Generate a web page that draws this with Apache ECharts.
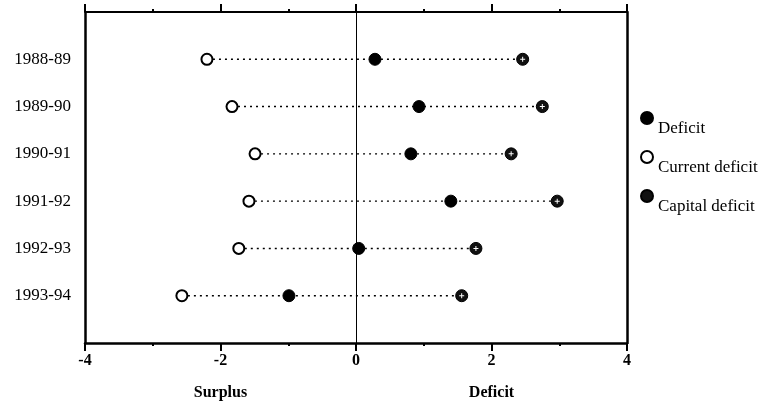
<!DOCTYPE html>
<html>
<head>
<meta charset="utf-8">
<script src="https://cdn.jsdelivr.net/npm/echarts@6/dist/echarts.min.js"></script>
<style>
html,body{margin:0;padding:0;background:#fff;}
#chart{width:763px;height:406px;}
</style>
</head>
<body>
<div id="chart"></div>
<script>
const categories = ['1988-89','1989-90','1990-91','1991-92','1992-93','1993-94'];
const deficit = [0.28, 0.93, 0.81, 1.40, 0.04, -0.99];
const currentDeficit = [-2.20, -1.83, -1.49, -1.58, -1.73, -2.57];
const capitalDeficit = [2.46, 2.75, 2.29, 2.97, 1.77, 1.56];
const xTickLabels = ['-4', '-2', '0', '2', '4'];
const xSideNames = {'-2': 'Surplus', '2': 'Deficit'};
const seriesNames = ['Deficit', 'Current deficit', 'Capital deficit'];

const FONT = "'Liberation Serif','Times New Roman',serif";
const chart = echarts.init(document.getElementById('chart'), null, {renderer: 'canvas'});

const n = categories.length;
const rowOf = i => n - i;
const catLabel = {};
categories.forEach((c, i) => { catLabel[rowOf(i)] = c; });

const pts = arr => arr.map((v, i) => [v, rowOf(i)]);

const dotted = categories.map((c, i) => ({
  type: 'line',
  silent: true,
  symbol: 'none',
  z: 1,
  lineStyle: {color: '#000', width: 1.4, type: [2, 4]},
  data: [[Math.min(currentDeficit[i], capitalDeficit[i], deficit[i]), rowOf(i)],
         [Math.max(currentDeficit[i], capitalDeficit[i], deficit[i]), rowOf(i)]]
}));

const crossPath = 'path://M4,0h2v4h4v2h-4v4h-2v-4h-4v-2h4z';

const option = {
  animation: false,
  backgroundColor: '#fff',
  grid: {left: 85, right: 136, top: 12, bottom: 63},
  legend: {
    orient: 'vertical',
    left: 635, top: 106,
    itemGap: 13,
    itemWidth: 12, itemHeight: 12,
    data: seriesNames,
    formatter: name => '{t|' + name + '}',
    textStyle: {
      fontFamily: FONT, fontSize: 17, color: '#000',
      rich: {t: {fontFamily: FONT, fontSize: 17, color: '#000', padding: [21, 0, 0, 0]}}
    }
  },
  xAxis: [
    {
      type: 'value', position: 'bottom', min: -4, max: 4, interval: 2,
      axisLine: {show: true, lineStyle: {color: '#000', width: 2.5}},
      axisTick: {show: true, length: 8, lineStyle: {color: '#000', width: 2}},
      minorTick: {show: true, splitNumber: 2, length: 3, lineStyle: {color: '#000', width: 2}},
      splitLine: {show: false},
      axisLabel: {
        margin: 10, fontFamily: FONT, fontSize: 16, fontWeight: 'bold', color: '#000',
        formatter: v => xTickLabels.includes(String(v)) ? String(v) : ''
      }
    },
    {
      type: 'value', position: 'top', min: -4, max: 4, interval: 2,
      axisLine: {show: true, onZero: false, lineStyle: {color: '#000', width: 2}},
      axisTick: {show: true, length: 8, lineStyle: {color: '#000', width: 2}},
      minorTick: {show: true, splitNumber: 2, length: 3, lineStyle: {color: '#000', width: 2}},
      splitLine: {show: false},
      axisLabel: {show: false}
    },
    {
      type: 'value', position: 'bottom', offset: 34, min: -4, max: 4, interval: 2,
      axisLine: {show: false}, axisTick: {show: false}, splitLine: {show: false},
      axisLabel: {
        margin: 8, fontFamily: FONT, fontSize: 16, fontWeight: 'bold', color: '#000',
        formatter: v => xSideNames[String(v)] || ''
      }
    }
  ],
  yAxis: [
    {
      type: 'value', position: 'left', min: 0, max: n + 1, interval: 1,
      axisLine: {show: true, onZero: false, lineStyle: {color: '#000', width: 2.5}},
      axisTick: {show: false}, splitLine: {show: false},
      axisLabel: {
        margin: 14, fontFamily: FONT, fontSize: 17, color: '#000',
        formatter: v => catLabel[v] || ''
      }
    },
    {
      type: 'value', position: 'right', min: 0, max: n + 1, interval: 1,
      axisLine: {show: true, onZero: false, lineStyle: {color: '#000', width: 2.5}},
      axisTick: {show: false}, splitLine: {show: false}, axisLabel: {show: false}
    }
  ],
  series: [
    ...dotted,
    {
      type: 'line', silent: true, symbol: 'none', data: [], z: 1,
      markLine: {
        silent: true, symbol: 'none', label: {show: false},
        lineStyle: {color: '#000', width: 1, type: 'solid'},
        data: [{xAxis: 0}]
      }
    },
    {
      name: 'Deficit', type: 'scatter', z: 3, symbol: 'circle', symbolSize: 12,
      itemStyle: {color: '#000', borderColor: '#000', borderWidth: 1, opacity: 1},
      data: pts(deficit)
    },
    {
      name: 'Current deficit', type: 'scatter', z: 3, symbol: 'circle', symbolSize: 11,
      itemStyle: {color: '#fff', borderColor: '#000', borderWidth: 2, opacity: 1},
      data: pts(currentDeficit)
    },
    {
      name: 'Capital deficit', type: 'scatter', z: 3, symbol: 'circle', symbolSize: 12,
      itemStyle: {color: '#111', borderColor: '#000', borderWidth: 1, opacity: 1},
      data: pts(capitalDeficit)
    },
    {
      type: 'scatter', z: 4, silent: true, symbol: crossPath, symbolSize: 5,
      itemStyle: {color: '#fff', opacity: 1},
      data: pts(capitalDeficit)
    }
  ]
};
chart.setOption(option);
</script>
</body>
</html>
